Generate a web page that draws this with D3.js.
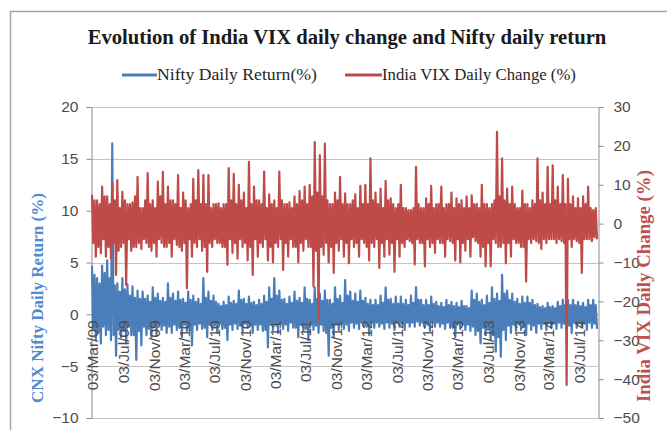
<!DOCTYPE html>
<html><head><meta charset="utf-8">
<script src="https://cdn.jsdelivr.net/npm/d3@7"></script>
<style>html,body{margin:0;padding:0;background:#fff;}svg{display:block;}</style>
</head><body>
<svg id="chart" width="667" height="430"></svg>
<script>
// ---- DATA ----
const titleText = "Evolution of India VIX daily change and Nifty daily return";
const seriesNames = ["Nifty Daily Return(%)", "India VIX Daily Change (%)"];
const leftTicks = [20, 15, 10, 5, 0, -5, -10];
const rightTicks = [30, 20, 10, 0, -10, -20, -30, -40, -50];
const xTickLabels = ["03/Mar/09","03/Jul/09","03/Nov/09","03/Mar/10","03/Jul/10","03/Nov/10",
  "03/Mar/11","03/Jul/11","03/Nov/11","03/Mar/12","03/Jul/12","03/Nov/12",
  "03/Mar/13","03/Jul/13","03/Nov/13","03/Mar/14","03/Jul/14"];
const firstDate = "03/Mar/09";
const lastDate = "15/Sep/14";

// Nifty daily return (%): outer swings (high, low) per sample step
const niftyOuter = [
  4.7,-2.5, 3.5,-2.8, 4.7,-2.0, 5.2,-2.5, 16.5,-4.0, 3.0,-2.2, 3.5,-2.8, 2.9,-2.0, 2.7,-4.4, 2.3,-3.0,
  2.2,-2.0, 1.8,-2.2, 2.6,-2.0, 2.0,-1.5, 1.6,-1.8, 3.0,-1.8, 2.0,-1.5, 2.2,-2.2, 1.5,-1.6, 2.2,-3.0,
  1.8,-1.5, 1.5,-1.4, 3.5,-2.2, 2.2,-1.5, 1.8,-1.8, 1.0,-1.4, 1.2,-2.5, 1.7,-1.5, 1.3,-1.4, 2.3,-1.7,
  1.5,-1.3, 1.7,-1.8, 1.2,-1.5, 1.4,-1.6, 1.8,-3.2, 2.6,-1.5, 3.5,-1.8, 2.3,-1.4, 1.5,-1.6, 1.7,-1.3,
  2.2,-2.2, 1.6,-1.6, 2.6,-2.5, 1.4,-1.5, 2.6,-1.8, 2.0,-1.6, 2.3,-4.0, 1.4,-2.2, 2.6,-1.5, 1.8,-1.4,
  3.3,-1.6, 2.2,-1.3, 2.0,-1.4, 2.3,-1.2, 1.6,-2.0, 1.4,-1.3, 1.4,-1.2, 1.8,-1.4, 2.6,-1.3, 1.5,-1.5,
  1.7,-1.2, 1.7,-1.5, 1.4,-1.2, 1.8,-1.2, 2.6,-1.1, 1.4,-1.3, 1.4,-1.6, 1.7,-1.2, 1.2,-1.2, 1.1,-1.4,
  1.4,-1.3, 1.2,-2.2, 1.1,-1.4, 1.3,-1.5, 0.8,-1.6, 2.3,-2.0, 2.0,-2.8, 1.4,-2.0, 1.8,-2.5, 2.6,-3.6,
  2.0,-4.1, 3.8,-2.5, 2.3,-1.8, 2.0,-1.6, 1.5,-1.5, 1.7,-2.0, 1.7,-1.5, 1.4,-1.8, 1.0,-1.4, 0.8,-1.5,
  1.1,-1.3, 0.8,-1.4, 1.2,-1.3, 1.4,-1.4, 1.4,-1.8, 1.4,-1.3, 1.2,-1.2, 1.1,-1.5, 1.4,-1.3, 1.4,-1.4
];
// Nifty daily return (%): inner swings (low, high) between the outer ones
const niftyInner = [
  -1.5,3.8, -1.8,3.0, -1.2,4.0, -1.5,3.5, -2.0,2.8, -1.5,2.2, -1.6,2.4, -1.2,1.8, -2.0,1.6, -1.6,1.5,
  -1.2,1.5, -1.4,1.2, -1.2,1.6, -1.0,1.3, -1.1,1.2, -1.2,1.6, -1.0,1.3, -1.3,1.4, -1.0,1.1, -1.5,1.4,
  -1.0,1.2, -0.9,1.0, -1.3,1.6, -1.0,1.3, -1.1,1.2, -0.9,0.8, -1.3,0.9, -1.0,1.1, -0.9,1.0, -1.1,1.4,
  -0.9,1.0, -1.1,1.1, -1.0,0.9, -1.0,1.0, -1.5,1.2, -1.0,1.5, -1.1,1.8, -0.9,1.4, -1.0,1.0, -0.8,1.1,
  -1.3,1.3, -1.0,1.1, -1.4,1.5, -1.0,1.0, -1.1,1.5, -1.0,1.3, -1.8,1.4, -1.3,1.0, -1.0,1.5, -0.9,1.1,
  -1.0,1.8, -0.8,1.3, -0.9,1.2, -0.8,1.3, -1.2,1.0, -0.8,0.9, -0.8,0.9, -0.9,1.1, -0.8,1.4, -0.9,1.0,
  -0.8,1.0, -0.9,1.0, -0.8,0.9, -0.8,1.1, -0.7,1.4, -0.8,0.9, -1.0,0.9, -0.8,1.0, -0.8,0.8, -0.9,0.7,
  -0.8,0.9, -1.3,0.8, -0.9,0.7, -1.0,0.8, -1.0,0.6, -1.2,1.4, -1.6,1.2, -1.3,0.9, -1.5,1.1, -2.0,1.5,
  -2.2,1.3, -1.5,2.0, -1.1,1.4, -1.0,1.2, -0.9,1.0, -1.2,1.1, -0.9,1.1, -1.1,0.9, -0.9,0.7, -0.9,0.6,
  -0.8,0.7, -0.9,0.6, -0.8,0.8, -0.9,0.9, -1.1,0.9, -0.8,0.9, -0.8,0.8, -0.9,0.7, -0.8,0.9, -0.9,0.9
];

// India VIX daily change (%): outer swings (high, low) per sample step
const vixOuter = [
  7.4,-8.5, 6.0,-7.6, 9.5,-8.5, 7.0,-9.0, 10.4,-13.2, 11.2,-6.0, 8.2,-15.8, 5.0,-7.0, 5.5,-6.0, 12.0,-6.5,
  4.0,-5.0, 13.0,-7.0, 6.0,-8.5, 10.8,-5.0, 13.3,-6.0, 9.5,-8.5, 6.0,-5.5, 12.5,-7.0, 8.0,-16.6, 4.0,-8.5,
  11.5,-6.0, 13.8,-7.0, 12.5,-12.4, 12.5,-6.0, 5.0,-5.0, 5.2,-6.0, 5.0,-10.6, 14.3,-7.5, 12.8,-9.0, 10.0,-6.0,
  8.0,-9.5, 15.9,-13.2, 9.5,-8.5, 6.0,-6.0, 13.4,-9.5, 7.5,-10.0, 6.0,-6.0, 13.4,-11.9, 5.0,-8.5, 5.5,-6.0,
  7.0,-10.0, 8.4,-7.0, 9.5,-6.0, 10.0,-16.2, 21.0,-24.8, 17.6,-8.0, 20.6,-10.0, 5.0,-12.7, 8.0,-7.0, 12.0,-8.5,
  7.8,-10.2, 5.0,-6.0, 7.5,-8.5, 9.7,-5.0, 10.0,-9.5, 16.8,-6.0, 8.0,-11.4, 9.0,-8.5, 11.0,-8.0, 6.5,-12.4,
  4.0,-8.5, 10.0,-6.0, 4.0,-4.5, 3.5,-10.5, 14.6,-5.0, 4.0,-11.0, 6.5,-6.0, 9.7,-7.5, 5.0,-5.0, 9.5,-8.5,
  5.0,-4.5, 8.0,-9.5, 6.5,-10.0, 6.0,-7.0, 7.0,-8.5, 7.3,-4.5, 5.0,-8.5, 10.0,-11.0, 5.0,-11.0, 5.0,-5.0,
  23.6,-6.0, 16.8,-10.2, 9.0,-8.5, 9.5,-5.0, 4.0,-6.0, 8.5,-14.9, 5.0,-5.0, 6.0,-4.5, 16.8,-6.5, 8.0,-5.0,
  14.6,-4.0, 15.0,-5.0, 9.5,-4.5, 12.5,-41.5, 11.5,-6.0, 7.0,-4.5, 6.5,-12.7, 7.0,-4.0, 9.5,-4.5, 3.5,-4.0
];
// India VIX daily change (%): inner swings (low, high) between the outer ones
const vixInner = [
  -5,6, -6,5, -4,7, -6,5, -5,6, -7,4, -5,6, -4,5, -6,7, -5,4,
  -4,6, -6,5, -5,4, -4,7, -6,5, -5,6, -4,5, -6,4, -5,6, -4,5,
  -5,6, -4,5, -6,5, -5,4, -4,5, -5,4, -6,5, -4,6, -5,5, -4,6,
  -5,4, -6,5, -4,6, -5,5, -4,4, -6,5, -5,4, -4,6, -5,5, -4,4,
  -6,5, -5,6, -4,5, -6,7, -7,8, -6,7, -5,6, -6,5, -5,6, -4,5,
  -5,5, -4,6, -5,4, -4,5, -6,5, -5,6, -4,5, -5,4, -4,6, -5,5,
  -4,5, -5,4, -4,3.5, -5,4, -4,5, -5,4, -4,5, -5,4, -4,5, -5,4,
  -4,5, -5,4, -4,5, -5,4, -4,4, -3.5,5, -5,4, -6,5, -5,4, -4,6,
  -6,7, -5,6, -5,5, -4,5, -5,4, -6,5, -4,4, -4,5, -5,6, -4,5,
  -4,5, -4,6, -4,5, -5,5, -4,5, -4,4, -5,4, -4,5, -4,4, -3.5,4
];

// combine: outer high, inner low, inner high, outer low for each step
function combine(outer, inner) {
  const out = [];
  for (let k = 0; k < outer.length / 2; k++) {
    out.push(outer[2 * k], inner[2 * k], inner[2 * k + 1], outer[2 * k + 1]);
  }
  return out;
}
const niftyReturn = combine(niftyOuter, niftyInner);
const vixChange = combine(vixOuter, vixInner);

// ---- CHART ----
const svg = d3.select("#chart");
const plot = {left: 91, right: 598, top: 107, bottom: 418};
const blue = "#4a7ebb", red = "#be4b48";
const parse = d3.timeParse("%d/%b/%y");
const d0 = parse(firstDate), d1 = parse(lastDate);

const x = d3.scaleTime().domain([d0, d1]).range([plot.left + 1, plot.right - 1]);
const yL = d3.scaleLinear().domain([-10, 20]).range([plot.bottom, plot.top]);
const yR = d3.scaleLinear().domain([-50, 30]).range([plot.bottom, plot.top]);

function fitText(sel, target) {
  const node = sel.node();
  const fs = parseFloat(sel.attr("font-size"));
  const len = node.getComputedTextLength();
  if (len > 0) sel.attr("font-size", (fs * target / len).toFixed(2));
  return sel;
}

// frame
svg.append("rect").attr("x", 10.5).attr("y", 11.5).attr("width", 700).attr("height", 450)
  .attr("fill", "#fff").attr("stroke", "#a6a6a6").attr("stroke-width", 1.5);

// title
const title = svg.append("text").attr("x", 347).attr("y", 44).attr("text-anchor", "middle")
  .attr("font-family", "Liberation Serif, serif").attr("font-weight", "bold")
  .attr("font-size", 19).attr("fill", "#1a1a1a").text(titleText);
fitText(title, 519);

// legend
const legendItems = [
  {name: seriesNames[0], color: blue, x0: 122, x1: 157, w: 160},
  {name: seriesNames[1], color: red, x0: 345, x1: 382, w: 194}
];
legendItems.forEach(it => {
  svg.append("line").attr("x1", it.x0).attr("x2", it.x1).attr("y1", 75).attr("y2", 75)
    .attr("stroke", it.color).attr("stroke-width", 3);
  const t = svg.append("text").attr("x", it.x1).attr("y", 80)
    .attr("font-family", "Liberation Serif, serif").attr("font-size", 15)
    .attr("fill", "#262626").text(it.name);
  fitText(t, it.w);
});

// gridlines (left axis)
svg.append("g").selectAll("line").data(leftTicks).join("line")
  .attr("x1", plot.left).attr("x2", plot.right)
  .attr("y1", d => Math.round(yL(d)) + 0.5).attr("y2", d => Math.round(yL(d)) + 0.5)
  .attr("stroke", "#c4c4c4").attr("stroke-width", 1);

// left axis
const leftAxis = d3.axisLeft(yL).tickValues(leftTicks).tickSize(5).tickPadding(8).tickFormat(d3.format("d"));
const gL = svg.append("g").attr("transform", `translate(${plot.left + 0.5},0)`).call(leftAxis);
gL.select(".domain").attr("stroke", "#8c8c8c");
gL.selectAll(".tick line").attr("stroke", "#8c8c8c");
gL.selectAll(".tick text").attr("font-family", "Liberation Sans, sans-serif").attr("font-size", 15.5)
  .attr("fill", "#4d4d4d");

// right axis
const rightAxis = d3.axisRight(yR).tickValues(rightTicks).tickSize(5).tickPadding(10).tickFormat(d3.format("d"));
const gR = svg.append("g").attr("transform", `translate(${plot.right + 0.5},0)`).call(rightAxis);
gR.select(".domain").attr("stroke", "#8c8c8c");
gR.selectAll(".tick line").attr("stroke", "#8c8c8c");
gR.selectAll(".tick text").attr("font-family", "Liberation Sans, sans-serif").attr("font-size", 15.5)
  .attr("fill", "#4d4d4d");

// horizontal (category) axis line at zero
svg.append("line").attr("x1", plot.left).attr("x2", plot.right)
  .attr("y1", Math.round(yL(0)) + 0.5).attr("y2", Math.round(yL(0)) + 0.5)
  .attr("stroke", "#8c8c8c");

// series lines
function drawSeries(values, yScale, color) {
  const t = d3.scaleLinear().domain([0, values.length - 1]).range([d0.getTime(), d1.getTime()]);
  const line = d3.line().x((d, i) => x(new Date(t(i)))).y(d => yScale(d));
  svg.append("path").datum(values).attr("d", line).attr("fill", "none")
    .attr("stroke", color).attr("stroke-width", 2.2).attr("stroke-linejoin", "round");
}
drawSeries(niftyReturn, yL, blue);
drawSeries(vixChange, yR, red);

// x tick labels (rotated)
const y0 = yL(0);
svg.append("g").selectAll("text").data(xTickLabels).join("text")
  .attr("transform", d => `translate(${x(parse(d)) + 1},${y0 + 6}) rotate(-90)`)
  .attr("text-anchor", "end").attr("dy", "0.35em")
  .attr("font-family", "Liberation Sans, sans-serif").attr("font-size", 15.5)
  .attr("fill", "#4d4d4d").text(d => d);

// axis titles
const lt = svg.append("text").attr("transform", `translate(43,298) rotate(-90)`)
  .attr("text-anchor", "middle").attr("font-family", "Liberation Serif, serif")
  .attr("font-weight", "bold").attr("font-size", 16).attr("fill", "#4f8bcf")
  .text("CNX Nifty Daily Return (%)");
fitText(lt, 210);
const rt = svg.append("text").attr("transform", `translate(650,286) rotate(-90)`)
  .attr("text-anchor", "middle").attr("font-family", "Liberation Serif, serif")
  .attr("font-weight", "bold").attr("font-size", 16).attr("fill", "#c0504d")
  .text("India VIX Daily Change (%)");
fitText(rt, 232);
</script>
</body></html>
